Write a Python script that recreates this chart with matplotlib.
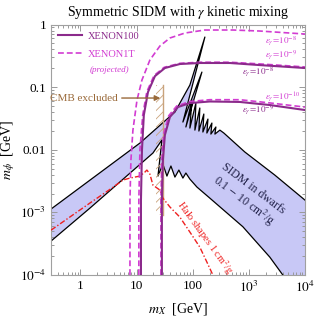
import matplotlib
matplotlib.use('Agg')
import matplotlib.pyplot as plt
from matplotlib.lines import Line2D
from matplotlib.ticker import FixedLocator, FixedFormatter, LogLocator, NullFormatter

plt.rcParams['font.family'] = ['Liberation Serif', 'DejaVu Serif']
plt.rcParams['mathtext.fontset'] = 'stix'
plt.rcParams['hatch.linewidth'] = 0.6

# SIDM in dwarfs band: upper edge (0.1 cm^2/g), lower edge (10 cm^2/g)
band_upper_mx = [0.3, 11.5, 48.3, 89.2, 165, 67, 146, 75.7, 96.8, 89.2, 114, 109.5, 134, 129,
                 158, 152, 187, 179, 220, 211, 259, 249, 305, 359, 850, 2904, 1e4]
band_upper_mphi = [1.13e-3, 0.0128, 0.040, 0.108, 0.631, 0.0277, 0.174, 0.0231, 0.0622, 0.0222,
                   0.0557, 0.0206, 0.0464, 0.0199, 0.0372, 0.0192, 0.0309, 0.0185, 0.0267, 0.0178,
                   0.0231, 0.0178, 0.0206, 0.0185, 9.2e-3, 3.94e-3, 1.57e-3]
band_lower_mx = [0.3, 1.48, 14.1, 19.6, 28.3, 24.1, 29.5, 34.8, 41, 48.3, 56.8, 67, 75.7, 89.2,
                 119, 202, 783, 2365, 4030]
band_lower_mphi = [3.48e-4, 1.17e-3, 6.84e-3, 8.86e-3, 0.0143, 3.8e-3, 5.9e-3, 3.8e-3, 5.5e-3,
                   3.66e-3, 4.74e-3, 3.53e-3, 4.25e-3, 3.4e-3, 2.54e-3, 1.69e-3, 5.9e-4, 1.93e-4, 1e-4]

# direct detection limits
x100_e8_mx = [12.0, 12.0, 12.5, 13.5, 16.0, 21.3, 32, 59.2, 134, 459, 1570, 1e4]
x100_e8_mphi = [1e-4, 1.57e-3, 9.9e-3, 0.0358, 0.0835, 0.150, 0.202, 0.234, 0.243, 0.243, 0.225, 0.202]
x100_e9_mx = [28.3, 28.3, 29.5, 32, 39.3, 54.6, 89.2, 202, 692, 2365, 1e4]
x100_e9_mphi = [1e-4, 1.57e-3, 6.84e-3, 0.0172, 0.0333, 0.0481, 0.0557, 0.059, 0.058, 0.0518, 0.0431]

x1t_e8_mx = [7.64, 7.64, 7.95, 8.63, 10.2, 12.5, 17.3, 26.1, 39.3, 72.7, 165, 519, 1570, 1e4]
x1t_e8_mphi = [1e-4, 1.57e-3, 6.84e-3, 0.0206, 0.0622, 0.130, 0.271, 0.454, 0.609, 0.731, 0.817,
               0.817, 0.787, 0.705]
x1t_e9_mx = [11.0, 11.0, 11.5, 12.9, 15.3, 20.5, 31, 59, 134, 459, 1570, 1e4]
x1t_e9_mphi = [1e-4, 1.57e-3, 9.9e-3, 0.036, 0.085, 0.153, 0.207, 0.24, 0.25, 0.25, 0.235, 0.21]
x1t_e10_mx = [27.2, 27.2, 28.3, 30.5, 37.5, 52, 89, 202, 692, 2365, 1e4]
x1t_e10_mphi = [1e-4, 1.57e-3, 7.2e-3, 0.018, 0.035, 0.050, 0.059, 0.063, 0.063, 0.056, 0.048]

# halo shapes 1 cm^2/g
halo_mx = [0.3, 1.48, 3.65, 5.73, 7.64, 11.5, 14.1, 15.3, 17.3, 19.6, 26.1, 29.5, 39.3, 59.2,
           89.2, 134, 179, 229]
halo_mphi = [5.2e-4, 1.41e-3, 2.45e-3, 3.28e-3, 3.53e-3, 3.8e-3, 4.4e-3, 4.74e-3, 4.09e-3,
             2.73e-3, 2.27e-3, 1.69e-3, 1.22e-3, 8.4e-4, 4.85e-4, 2.79e-4, 1.61e-4, 1e-4]

# CMB excluded region
cmb_mx = [22.0, 29.5]
cmb_mphi = [9.0e-4, 0.11]

purple = '#8b2a8b'
magenta = '#d23cd2'
tan = '#c9a37c'
brown = '#9a6a3a'

fig = plt.figure(figsize=(3.15, 3.18), dpi=100)
ax = fig.add_axes([0.1619, 0.1352, 0.8063, 0.7877])
ax.set_xscale('log')
ax.set_yscale('log')
ax.set_xlim(0.3, 1e4)
ax.set_ylim(1e-4, 1)

# blue band
poly_x = band_upper_mx + [1e4] + band_lower_mx[::-1]
poly_y = band_upper_mphi + [1e-4] + band_lower_mphi[::-1]
ax.fill(poly_x, poly_y, facecolor='#c8c8f6', edgecolor='none', zorder=1)
ax.plot(band_upper_mx, band_upper_mphi, color='black', lw=0.9, zorder=2)
ax.plot(band_lower_mx, band_lower_mphi, color='black', lw=0.9, zorder=2)

# CMB hatch
ax.fill_betweenx(cmb_mphi, cmb_mx[0], cmb_mx[1], facecolor='none', edgecolor=tan,
                 hatch='////', lw=0, zorder=3)
ax.plot([cmb_mx[1], cmb_mx[1]], cmb_mphi, color=tan, lw=1.0, zorder=3)
ax.annotate('CMB excluded', xy=(26.5, 0.067), xytext=(4.6, 0.067), color=brown, fontsize=8,
            ha='right', va='center',
            arrowprops=dict(arrowstyle='-|>', color=brown, lw=1.0, mutation_scale=8,
                            shrinkA=1, shrinkB=0), zorder=6)

# halo shapes
ax.plot(halo_mx, halo_mphi, color='#ee2020', lw=1.0, ls=(0, (4, 1.5, 1, 1.5)), zorder=4)

# XENON curves
dash = (0, (3.5, 1.8))
ax.plot(x1t_e8_mx, x1t_e8_mphi, color=magenta, lw=1.2, ls=dash, zorder=5)
ax.plot(x1t_e9_mx, x1t_e9_mphi, color=magenta, lw=1.2, ls=dash, zorder=5)
ax.plot(x1t_e10_mx, x1t_e10_mphi, color=magenta, lw=1.2, ls=dash, zorder=5)
ax.plot(x100_e8_mx, x100_e8_mphi, color=purple, lw=1.5, zorder=5)
ax.plot(x100_e9_mx, x100_e9_mphi, color=purple, lw=1.5, zorder=5)

# curve labels
lab_fs = 6.5
ax.text(3712, 0.54, r'$\varepsilon_\gamma\!=\!10^{-8}$', color=magenta, fontsize=lab_fs, ha='center', va='center')
ax.text(3712, 0.32, r'$\varepsilon_\gamma\!=\!10^{-9}$', color=magenta, fontsize=lab_fs, ha='center', va='center')
ax.text(1447, 0.172, r'$\varepsilon_\gamma\!=\!10^{-8}$', color=purple, fontsize=lab_fs, ha='center', va='center')
ax.text(4030, 0.0695, r'$\varepsilon_\gamma\!=\!10^{-10}$', color=magenta, fontsize=lab_fs, ha='center', va='center')
ax.text(1447, 0.0431, r'$\varepsilon_\gamma\!=\!10^{-9}$', color=purple, fontsize=lab_fs, ha='center', va='center')

ax.text(960, 1.82e-3, 'SIDM in dwarfs\n0.1 $-$ 10 cm$^2$/g', color='#23234a', fontsize=8.5,
        ha='center', va='center', rotation=-37, multialignment='center', linespacing=1.1, zorder=6)
ax.text(165, 3.9e-4, 'Halo shapes 1 cm$^2$/g', color='#ee2020', fontsize=7.5,
        ha='center', va='center', rotation=-54, zorder=6)

# legend
handles = [Line2D([], [], color=purple, lw=1.5), Line2D([], [], color=magenta, lw=1.2, ls=dash)]
leg = ax.legend(handles, ['XENON100', 'XENON1T'], loc='upper left', frameon=False, fontsize=7.5,
                handlelength=2.3, handletextpad=0.5, labelspacing=0.8, borderaxespad=0.3)
for t, c in zip(leg.get_texts(), [purple, magenta]):
    t.set_color(c)
ax.text(0.232, 0.818, '(projected)', transform=ax.transAxes, style='italic', fontsize=6.5,
        color=magenta, ha='center', va='center')

# axes styling
ax.xaxis.set_major_locator(FixedLocator([1, 10, 100, 1e3, 1e4]))
ax.xaxis.set_major_formatter(FixedFormatter(['1', '10', '100', '$10^3$', '$10^4$']))
ax.yaxis.set_major_locator(FixedLocator([1e-4, 1e-3, 0.01, 0.1, 1]))
ax.yaxis.set_major_formatter(FixedFormatter(['$10^{-4}$', '$10^{-3}$', '0.01', '0.1', '1']))
ax.xaxis.set_minor_locator(LogLocator(base=10, subs=range(2, 10), numticks=20))
ax.yaxis.set_minor_locator(LogLocator(base=10, subs=range(2, 10), numticks=20))
ax.xaxis.set_minor_formatter(NullFormatter())
ax.yaxis.set_minor_formatter(NullFormatter())
ax.tick_params(which='both', direction='in', top=True, right=True, color='#999999',
               labelcolor='black', labelsize=9.5, width=0.7)
ax.tick_params(which='major', length=4)
ax.tick_params(which='minor', length=2)
for s in ax.spines.values():
    s.set_color('#a0a0a0')
    s.set_linewidth(0.8)

ax.set_xlabel(r'$m_X$  [GeV]', fontsize=10, labelpad=4)
ax.set_ylabel(r'$m_\phi$  [GeV]', fontsize=10, labelpad=2)
ax.set_title(r'Symmetric SIDM with $\gamma$ kinetic mixing', fontsize=10, pad=6)

fig.savefig('out.png', dpi=100)
